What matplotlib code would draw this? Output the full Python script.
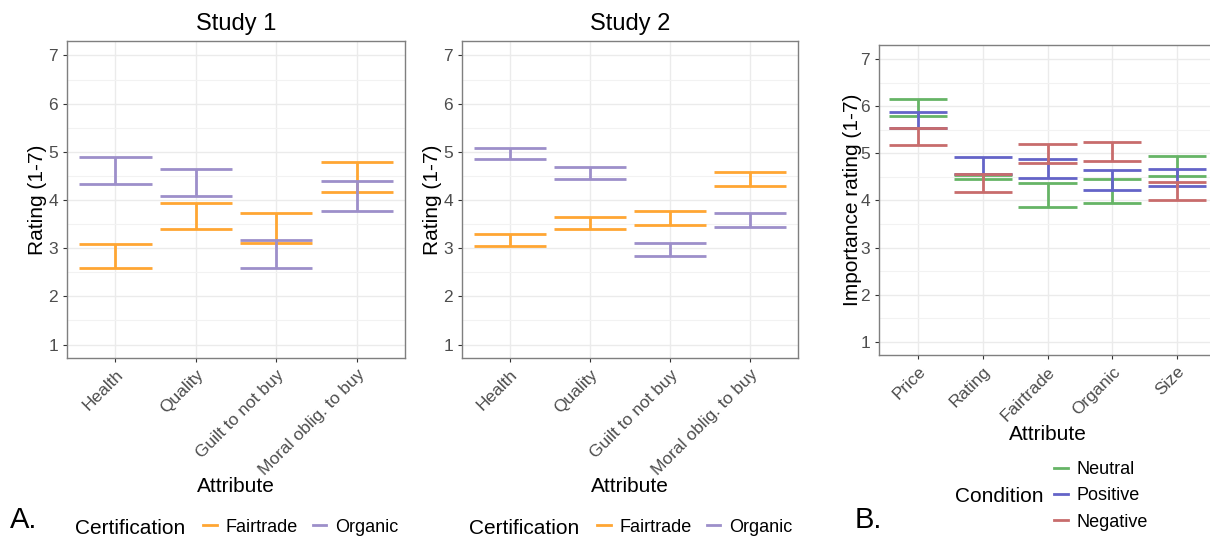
import matplotlib
matplotlib.use('Agg')
import matplotlib.pyplot as plt
from matplotlib.lines import Line2D
import numpy as np

plt.rcParams['font.family'] = ['Liberation Sans', 'DejaVu Sans']

# Panel A data (confidence interval bounds)
attrs_a = ['Health', 'Quality', 'Guilt to not buy', 'Moral oblig. to buy']
s1_fair_lo = [2.58, 3.40, 3.11, 4.17]
s1_fair_hi = [3.08, 3.93, 3.73, 4.79]
s1_org_lo = [4.34, 4.09, 2.59, 3.78]
s1_org_hi = [4.90, 4.64, 3.16, 4.40]
s2_fair_lo = [3.05, 3.40, 3.48, 4.29]
s2_fair_hi = [3.29, 3.64, 3.77, 4.58]
s2_org_lo = [4.86, 4.44, 2.84, 3.44]
s2_org_hi = [5.08, 4.69, 3.11, 3.73]

# Panel B data
attrs_b = ['Price', 'Rating', 'Fairtrade', 'Organic', 'Size']
neu_lo = [5.80, 4.46, 3.86, 3.94, 4.53]
neu_hi = [6.16, 4.55, 4.38, 4.45, 4.95]
pos_lo = [5.53, 4.57, 4.47, 4.22, 4.31]
pos_hi = [5.87, 4.93, 4.88, 4.65, 4.67]
neg_lo = [5.17, 4.19, 4.79, 4.83, 4.01]
neg_hi = [5.53, 4.56, 5.20, 5.24, 4.39]

ORANGE = '#FFA633'
PURPLE = '#9D8FCA'
GREEN = '#66B466'
BLUE = '#6464C8'
RED = '#C86C6C'
GRAY_TXT = '#4D4D4D'
W = 0.45
LW = 2.0


def draw_ci(ax, lo, hi, color):
    x = np.arange(1, len(lo) + 1)
    ax.vlines(x, lo, hi, color=color, lw=LW)
    ax.hlines(lo, x - W, x + W, color=color, lw=LW)
    ax.hlines(hi, x - W, x + W, color=color, lw=LW)


def style(ax, labels):
    n = len(labels)
    ax.set_xlim(0.4, n + 0.6)
    ax.set_ylim(0.72, 7.3)
    ax.set_xticks(np.arange(1, n + 1))
    ax.set_xticklabels(labels, rotation=45, ha='right', rotation_mode='anchor',
                       fontsize=12.5, color=GRAY_TXT)
    ax.set_yticks(range(1, 8))
    ax.set_yticks(np.arange(1.5, 7.0, 1.0), minor=True)
    ax.tick_params(axis='y', which='minor', length=0)
    ax.tick_params(axis='both', which='major', labelsize=12.5, labelcolor=GRAY_TXT,
                   color='#333333', length=3, width=0.8)
    ax.grid(True, which='major', color='#EBEBEB', lw=1.0)
    ax.grid(True, which='minor', axis='y', color='#F2F2F2', lw=0.8)
    ax.set_axisbelow(True)
    for s in ax.spines.values():
        s.set_color('#7F7F7F')
        s.set_linewidth(1.0)


fig = plt.figure(figsize=(12.1, 5.38), dpi=100)
H = 538.0
Wd = 1210.0
ax1 = fig.add_axes([67 / Wd, 1 - 358 / H, 338 / Wd, 317 / H])
ax2 = fig.add_axes([462 / Wd, 1 - 358 / H, 336 / Wd, 317 / H])
ax3 = fig.add_axes([879 / Wd, 1 - 355 / H, 337 / Wd, 310 / H])

draw_ci(ax1, s1_fair_lo, s1_fair_hi, ORANGE)
draw_ci(ax1, s1_org_lo, s1_org_hi, PURPLE)
draw_ci(ax2, s2_fair_lo, s2_fair_hi, ORANGE)
draw_ci(ax2, s2_org_lo, s2_org_hi, PURPLE)
draw_ci(ax3, neu_lo, neu_hi, GREEN)
draw_ci(ax3, pos_lo, pos_hi, BLUE)
draw_ci(ax3, neg_lo, neg_hi, RED)

for ax, labels in [(ax1, attrs_a), (ax2, attrs_a), (ax3, attrs_b)]:
    style(ax, labels)

ax1.set_title('Study 1', fontsize=17, pad=8)
ax2.set_title('Study 2', fontsize=17, pad=8)
ax1.set_ylabel('Rating (1-7)', fontsize=15)
ax2.set_ylabel('Rating (1-7)', fontsize=15)
ax3.set_ylabel('Importance rating (1-7)', fontsize=15)
for ax in (ax1, ax2):
    ax.yaxis.set_label_coords(-0.06, 0.5)
ax3.yaxis.set_label_coords(-0.05, 0.5)

ax1.set_xlabel('Attribute', fontsize=15)
ax2.set_xlabel('Attribute', fontsize=15)
ax3.set_xlabel('Attribute', fontsize=15)
ax1.xaxis.set_label_coords(0.5, -0.375)
ax2.xaxis.set_label_coords(0.5, -0.375)
ax3.xaxis.set_label_coords(0.5, -0.225)

# Legends for panel A
for x0 in (75, 469):
    fig.text(x0 / Wd, 1 - 528 / H, 'Certification', fontsize=15, ha='left', va='center')
    handles = [Line2D([], [], color=ORANGE, lw=LW), Line2D([], [], color=PURPLE, lw=LW)]
    fig.legend(handles, ['Fairtrade', 'Organic'], ncol=2, frameon=False,
               loc='center left', bbox_to_anchor=((x0 + 112) / Wd, 1 - 527 / H),
               fontsize=13, handlelength=0.75, handletextpad=0.5, columnspacing=0.8)

# Legend for panel B
fig.text(955 / Wd, 1 - 497 / H, 'Condition', fontsize=15, ha='left', va='center')
handles = [Line2D([], [], color=GREEN, lw=LW), Line2D([], [], color=BLUE, lw=LW),
           Line2D([], [], color=RED, lw=LW)]
fig.legend(handles, ['Neutral', 'Positive', 'Negative'], ncol=1, frameon=False,
           loc='center left', bbox_to_anchor=(1038 / Wd, 1 - 496 / H),
           fontsize=13, handlelength=0.75, handletextpad=0.5, labelspacing=0.5)

fig.text(10 / Wd, 1 - 520 / H, 'A.', fontsize=21, ha='left', va='center')
fig.text(855 / Wd, 1 - 520 / H, 'B.', fontsize=21, ha='left', va='center')

fig.savefig('out.png', dpi=100)
